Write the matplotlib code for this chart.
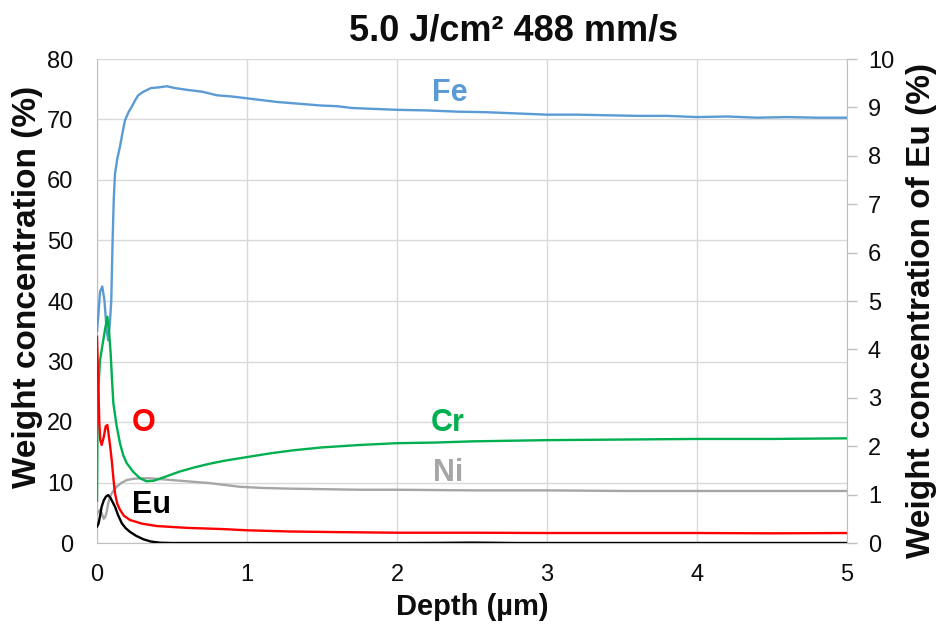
import matplotlib
matplotlib.use("Agg")
import matplotlib.pyplot as plt

plt.rcParams['font.family'] = ['Liberation Sans', 'DejaVu Sans']

# ---- data (depth in µm, weight concentration in %) ----
fe_x = [0, 0.01, 0.02, 0.035, 0.05, 0.065, 0.075, 0.085, 0.095, 0.104, 0.112, 0.12, 0.135, 0.153,
        0.17, 0.187, 0.21, 0.231, 0.255, 0.275, 0.31, 0.36, 0.41, 0.465, 0.52, 0.6, 0.7, 0.8, 0.9,
        1.0, 1.1, 1.2, 1.3, 1.4, 1.5, 1.6, 1.7, 1.8, 1.9, 2.0, 2.2, 2.4, 2.6, 2.8, 3.0, 3.2, 3.4,
        3.6, 3.8, 4.0, 4.2, 4.4, 4.6, 4.8, 5.0]
fe_y = [35, 38, 41.5, 42.4, 40, 35, 33.5, 36, 40, 50, 57, 61, 63.5, 65.5,
        67.8, 69.9, 71.2, 72.1, 73.2, 74.0, 74.6, 75.2, 75.3, 75.5, 75.2, 74.9, 74.6, 74.0, 73.8,
        73.5, 73.2, 72.9, 72.7, 72.5, 72.3, 72.2, 71.9, 71.8, 71.7, 71.6, 71.5, 71.3, 71.2, 71.0,
        70.8, 70.8, 70.7, 70.6, 70.6, 70.4, 70.5, 70.3, 70.4, 70.3, 70.3]

cr_x = [0, 0.003, 0.01, 0.02, 0.035, 0.053, 0.069, 0.08, 0.091, 0.1, 0.109, 0.13, 0.153, 0.175,
        0.198, 0.24, 0.287, 0.33, 0.38, 0.45, 0.55, 0.65, 0.75, 0.85, 1.0, 1.15, 1.3, 1.5, 1.75,
        2.0, 2.25, 2.5, 2.75, 3.0, 3.5, 4.0, 4.5, 5.0]
cr_y = [7, 18, 26, 30.2, 32.5, 35.2, 37.4, 35, 31.4, 27, 23.1, 19.5, 16.5, 14.5,
        13.2, 11.8, 10.7, 10.2, 10.3, 10.9, 11.8, 12.5, 13.1, 13.6, 14.2, 14.8, 15.3, 15.8, 16.2,
        16.5, 16.6, 16.8, 16.9, 17.0, 17.1, 17.2, 17.2, 17.3]

ni_x = [0, 0.015, 0.03, 0.045, 0.055, 0.065, 0.075, 0.087, 0.098, 0.115, 0.131, 0.16, 0.198, 0.24,
        0.287, 0.35, 0.45, 0.55, 0.65, 0.75, 0.85, 0.95, 1.1, 1.25, 1.5, 1.75, 2.0, 2.5, 3.0, 3.5,
        4.0, 4.5, 5.0]
ni_y = [4.8, 5.4, 5.0, 4.0, 4.3, 5.2, 6.6, 7.6, 8.2, 8.8, 9.3, 9.9, 10.4, 10.6,
        10.7, 10.7, 10.5, 10.3, 10.1, 9.9, 9.6, 9.3, 9.1, 9.0, 8.9, 8.8, 8.8, 8.7, 8.7, 8.6,
        8.6, 8.6, 8.6]

o_x = [0, 0.008, 0.015, 0.022, 0.031, 0.045, 0.058, 0.069, 0.08, 0.09, 0.098, 0.11, 0.12, 0.135,
       0.153, 0.18, 0.22, 0.3, 0.4, 0.6, 0.84, 1.0, 1.29, 1.6, 2.0, 2.5, 3.0, 3.5, 4.0, 4.5, 5.0]
o_y = [34.1, 27, 20, 17, 16.2, 17.5, 19.3, 19.5, 17.5, 15.5, 13.7, 10.5, 8.2, 6.5,
       5.5, 4.5, 3.8, 3.2, 2.8, 2.5, 2.3, 2.1, 1.9, 1.8, 1.7, 1.7, 1.65, 1.65, 1.65, 1.6, 1.65]

# Eu on the secondary axis (0-10 %)
eu_x = [0, 0.01, 0.02, 0.031, 0.045, 0.06, 0.075, 0.09, 0.105, 0.12, 0.14, 0.165, 0.19, 0.22,
        0.26, 0.31, 0.36, 0.42, 0.5, 1.0, 2.0, 2.3, 2.4, 2.5, 2.6, 2.7, 2.8, 3.0, 4.0, 5.0]
eu_y = [0.34, 0.40, 0.55, 0.75, 0.88, 0.96, 0.99, 0.93, 0.84, 0.75, 0.58, 0.41, 0.31, 0.23,
        0.15, 0.076, 0.03, 0.006, 0, 0, 0, 0.003, 0.006, 0.008, 0.006, 0.003, 0, 0, 0, 0]

x_ticks = [0, 1, 2, 3, 4, 5]
left_ticks = [0, 10, 20, 30, 40, 50, 60, 70, 80]
right_ticks = [0, 1, 2, 3, 4, 5, 6, 7, 8, 9, 10]

C_FE = '#5B9BD5'
C_CR = '#00B050'
C_NI = '#A6A6A6'
C_O = '#FF0000'
C_EU = '#000000'
GRID = '#D9D9D9'
TXT = '#0d0d0d'

fig = plt.figure(figsize=(9.41, 6.25), dpi=100)
ax = fig.add_axes([97/941, 1-543/625, 750/941, 484/625])
ax2 = ax.twinx()

lw = 1.7
ax.plot(fe_x, fe_y, color=C_FE, lw=lw, zorder=3)
ax.plot(ni_x, ni_y, color=C_NI, lw=lw, zorder=3)
ax.plot(cr_x, cr_y, color=C_CR, lw=lw, zorder=4)
ax.plot(o_x, o_y, color=C_O, lw=lw, zorder=5)
ax2.plot(eu_x, eu_y, color=C_EU, lw=lw, zorder=6)

ax.set_xlim(0, 5)
ax.set_ylim(0, 80)
ax2.set_ylim(0, 10)
ax.set_xticks(x_ticks)
ax.set_yticks(left_ticks)
ax2.set_yticks(right_ticks)

ax.grid(True, color=GRID, lw=1.0)
ax.set_axisbelow(True)

for a in (ax, ax2):
    for s in a.spines.values():
        s.set_visible(False)
ax.spines['left'].set_visible(True)
ax.spines['left'].set_color('#BFBFBF')
ax.spines['bottom'].set_visible(True)
ax.spines['bottom'].set_color('#BFBFBF')
ax2.spines['right'].set_visible(True)
ax2.spines['right'].set_color('#BFBFBF')

ax.tick_params(axis='y', length=0, pad=17, labelsize=17, labelcolor=TXT)
ax.tick_params(axis='x', length=0, pad=15, labelsize=17, labelcolor=TXT)
ax2.tick_params(axis='y', length=7, width=1, color='#BFBFBF', pad=8, labelsize=17, labelcolor=TXT)

ax.set_xlabel('Depth (µm)', fontsize=21, fontweight='bold', color=TXT)
ax.xaxis.set_label_coords(0.5, (543-607)/484)
ax.xaxis.label.set_va('center')

ax.set_ylabel('Weight concentration (%)', fontsize=24, fontweight='bold', color=TXT)
ax.yaxis.set_label_coords((28-97)/750, (543-287)/484)
ax.yaxis.label.set_va('center')

ax2.set_ylabel('Weight concentration of Eu (%)', fontsize=24, fontweight='bold', color=TXT)
ax2.yaxis.set_label_coords((922-97)/750, (543-310)/484)
ax2.yaxis.label.set_va('center')

fig.text(514/941, 1-31/625, '5.0 J/cm² 488 mm/s', ha='center', va='center',
         fontsize=26, fontweight='bold', color=TXT)

lab = dict(fontsize=22, fontweight='bold', ha='center', va='center', zorder=10)
ax.text(2.35, 74.4, 'Fe', color=C_FE, **lab)
ax.text(2.34, 19.8, 'Cr', color=C_CR, **lab)
ax.text(2.34, 11.6, 'Ni', color=C_NI, **lab)
ax.text(0.31, 19.8, 'O', color=C_O, **lab)
ax.text(0.36, 6.3, 'Eu', color=C_EU, **lab)

fig.savefig('out.png', dpi=100)
